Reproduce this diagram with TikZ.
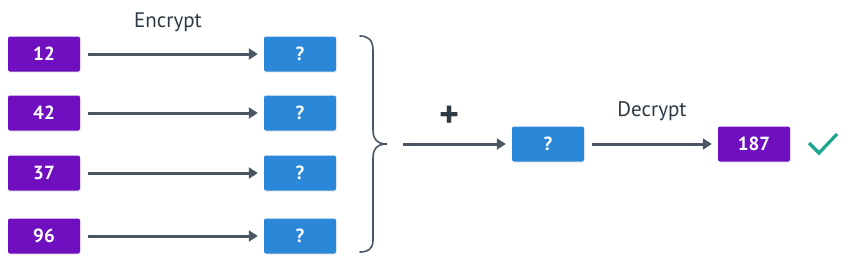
\documentclass[tikz,border=0pt]{standalone}
\usepackage{fontspec}
\setmainfont{PT Sans}
\usetikzlibrary{arrows.meta,shadows}
\definecolor{vio}{HTML}{6F0FBF}
\definecolor{azure}{HTML}{2B87D8}
\definecolor{slate}{HTML}{4A5663}
\definecolor{ink}{HTML}{2E3A45}
\definecolor{tealc}{HTML}{1AA58F}
\tikzset{
  box/.style={minimum width=72pt, minimum height=35pt, rounded corners=2pt, text=white,
    font=\fontsize{19}{19}\selectfont\bfseries, inner sep=0pt,
    drop shadow={shadow xshift=0.6pt, shadow yshift=-1pt, opacity=0.18}},
  plain/.style={box, fill=vio},
  cipher/.style={box, fill=azure},
  conn/.style={draw=slate, line width=3pt, -{Triangle[length=9pt,width=11pt]}},
  lbl/.style={text=ink, font=\fontsize{21}{21}\selectfont}
}
\begin{document}
\begin{tikzpicture}[x=1pt,y=-1pt]
\useasboundingbox (0,0) rectangle (850,260);
\node[plain]  (p1) at (44,54)  {12};
\node[plain]  (p2) at (44,113) {42};
\node[plain]  (p3) at (44,173) {37};
\node[plain]  (p4) at (44,236) {96};
\node[cipher] (c1) at (300,54)  {?};
\node[cipher] (c2) at (300,113) {?};
\node[cipher] (c3) at (300,173) {?};
\node[cipher] (c4) at (300,236) {?};
\foreach \i in {1,2,3,4}{
  \draw[conn] ([xshift=8pt]p\i.east) -- ([xshift=-6pt]c\i.west);
}
\node[lbl] (enc) at (168,22) {Encrypt};
% brace
\coordinate (tip) at (387,144);
\draw[slate, line width=1.6pt, line cap=round]
  (360,36) .. controls (368,36) and (373,40) .. (373,50)
  -- (373,130) .. controls (373,140) and (378,144) .. (tip)
  .. controls (378,144) and (373,148) .. (373,158)
  -- (373,240) .. controls (373,249) and (368,252) .. (360,252);
\node[cipher] (sum) at (548,144) {?};
\node[plain]  (res) at (754,144) {187};
\coordinate (start) at (403,144);
\draw[conn] (start) -- ([xshift=-6pt]sum.west);
\draw[conn] ([xshift=8pt]sum.east) -- ([xshift=-6pt]res.west);
\node[lbl, font=\fontsize{38}{38}\selectfont\bfseries] (plus) at (450,117) {+};
\node[lbl] (dec) at (652,111) {Decrypt};
\draw[tealc, line width=3.2pt] (809,143) -- (819,153) -- (837,134);
\end{tikzpicture}
\end{document}
